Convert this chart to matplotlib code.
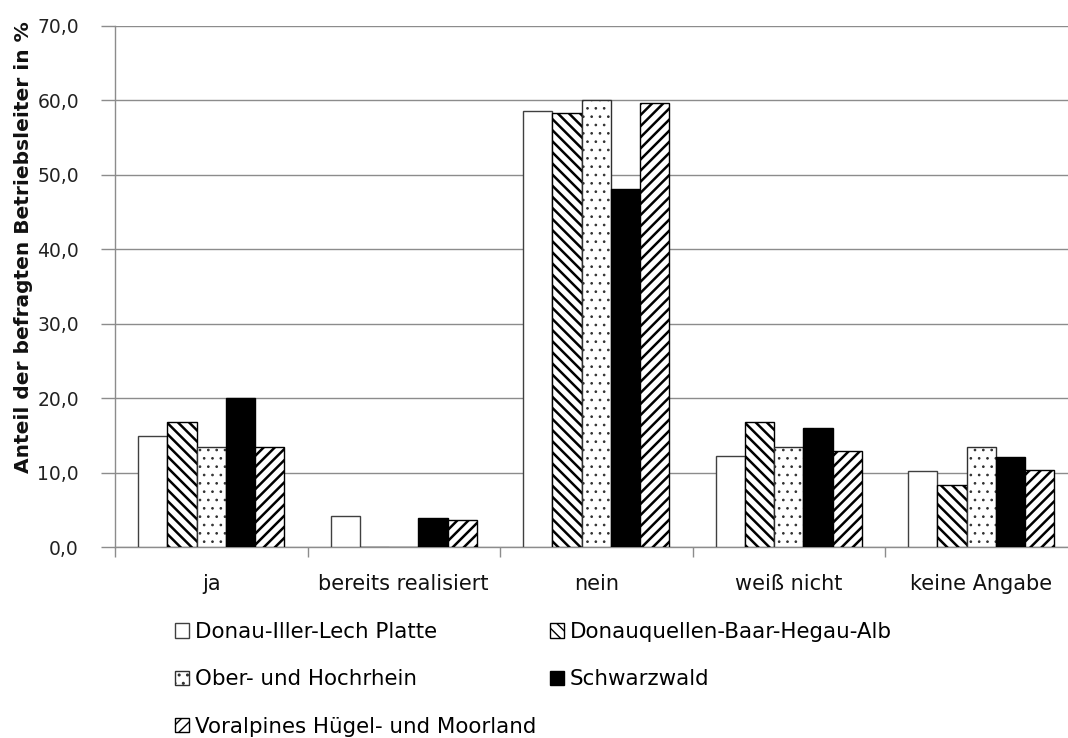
import numpy as np
import matplotlib
matplotlib.use("Agg")
import matplotlib.pyplot as plt

# survey answers per region (share of farm managers in %)
categories = ["ja", "bereits realisiert", "nein", "weiß nicht", "keine Angabe"]
regions = ["Donau-Iller-Lech Platte", "Donauquellen-Baar-Hegau-Alb",
           "Ober- und Hochrhein", "Schwarzwald",
           "Voralpines Hügel- und Moorland"]
donau_iller = [14.9, 4.2, 58.5, 12.2, 10.2]
donauquellen = [16.8, 0.0, 58.3, 16.8, 8.4]
ober_hochrhein = [13.4, 0.0, 60.0, 13.4, 13.4]
schwarzwald = [20.0, 4.0, 48.1, 16.0, 12.1]
voralpines = [13.5, 3.7, 59.7, 12.9, 10.4]

series = [donau_iller, donauquellen, ober_hochrhein, schwarzwald, voralpines]
fills = ["white", "white", "white", "black", "white"]
edges = ["#404040", "black", "#303030", "black", "black"]
hatches = [None, "\\\\\\", "..", None, "///"]
hatch_lw = [1.8, 1.8, 0.7, 1.8, 1.8]

grey = "#8c8c8c"

fig = plt.figure(figsize=(10.68, 7.38), dpi=100)
ax = fig.add_axes([115 / 1068, (738 - 547.3) / 738, 962.5 / 1068, 521.5 / 738])

x = np.arange(len(categories))
w = 0.152
bars = []
for i, vals in enumerate(series):
    with plt.rc_context({"hatch.linewidth": hatch_lw[i]}):
        b = ax.bar(x + (i - 2) * w, vals, w, color=fills[i], edgecolor=edges[i],
                   linewidth=1.0, hatch=hatches[i], label=regions[i], zorder=3)
    bars.append(b)

ax.set_xlim(-0.5, 4.5)
ax.set_ylim(0, 70)
ax.set_yticks(np.arange(0, 71, 10))
ax.set_yticklabels([f"{v:.1f}".replace(".", ",") for v in range(0, 71, 10)],
                   fontsize=13.5, color="#222222")
ax.yaxis.grid(True, color=grey, linewidth=1.0, zorder=0)

ax.set_xticks(x)
ax.set_xticklabels(categories, fontsize=15, color="#111111")
ax.set_xticks(np.arange(-0.5, 4.6, 1), minor=True)
ax.tick_params(axis="x", which="major", length=0, pad=19)
ax.tick_params(axis="x", which="minor", length=7, color=grey, width=1)
ax.tick_params(axis="y", length=10, color=grey, width=1, pad=16)

for s in ["top", "right"]:
    ax.spines[s].set_visible(False)
for s in ["left", "bottom"]:
    ax.spines[s].set_color(grey)
    ax.spines[s].set_linewidth(1.0)

fig.text(24 / 1068, 1 - 247 / 738, "Anteil der befragten Betriebsleiter in %",
         rotation=90, ha="center", va="center", fontsize=14.5,
         fontweight="bold", color="#111111")

# legend filled row by row
order = [0, 2, 4, 1, 3]
fig.legend([bars[i] for i in order], [regions[i] for i in order],
           ncol=2, loc="upper left", frameon=False,
           bbox_to_anchor=(175 / 1068, 1 - 622 / 738),
           prop={"size": 15.4},
           handlelength=0.65, handleheight=0.65, handletextpad=0.28,
           columnspacing=0.65, labelspacing=1.28, borderpad=0, borderaxespad=0)

fig.savefig("out.png", dpi=100)
